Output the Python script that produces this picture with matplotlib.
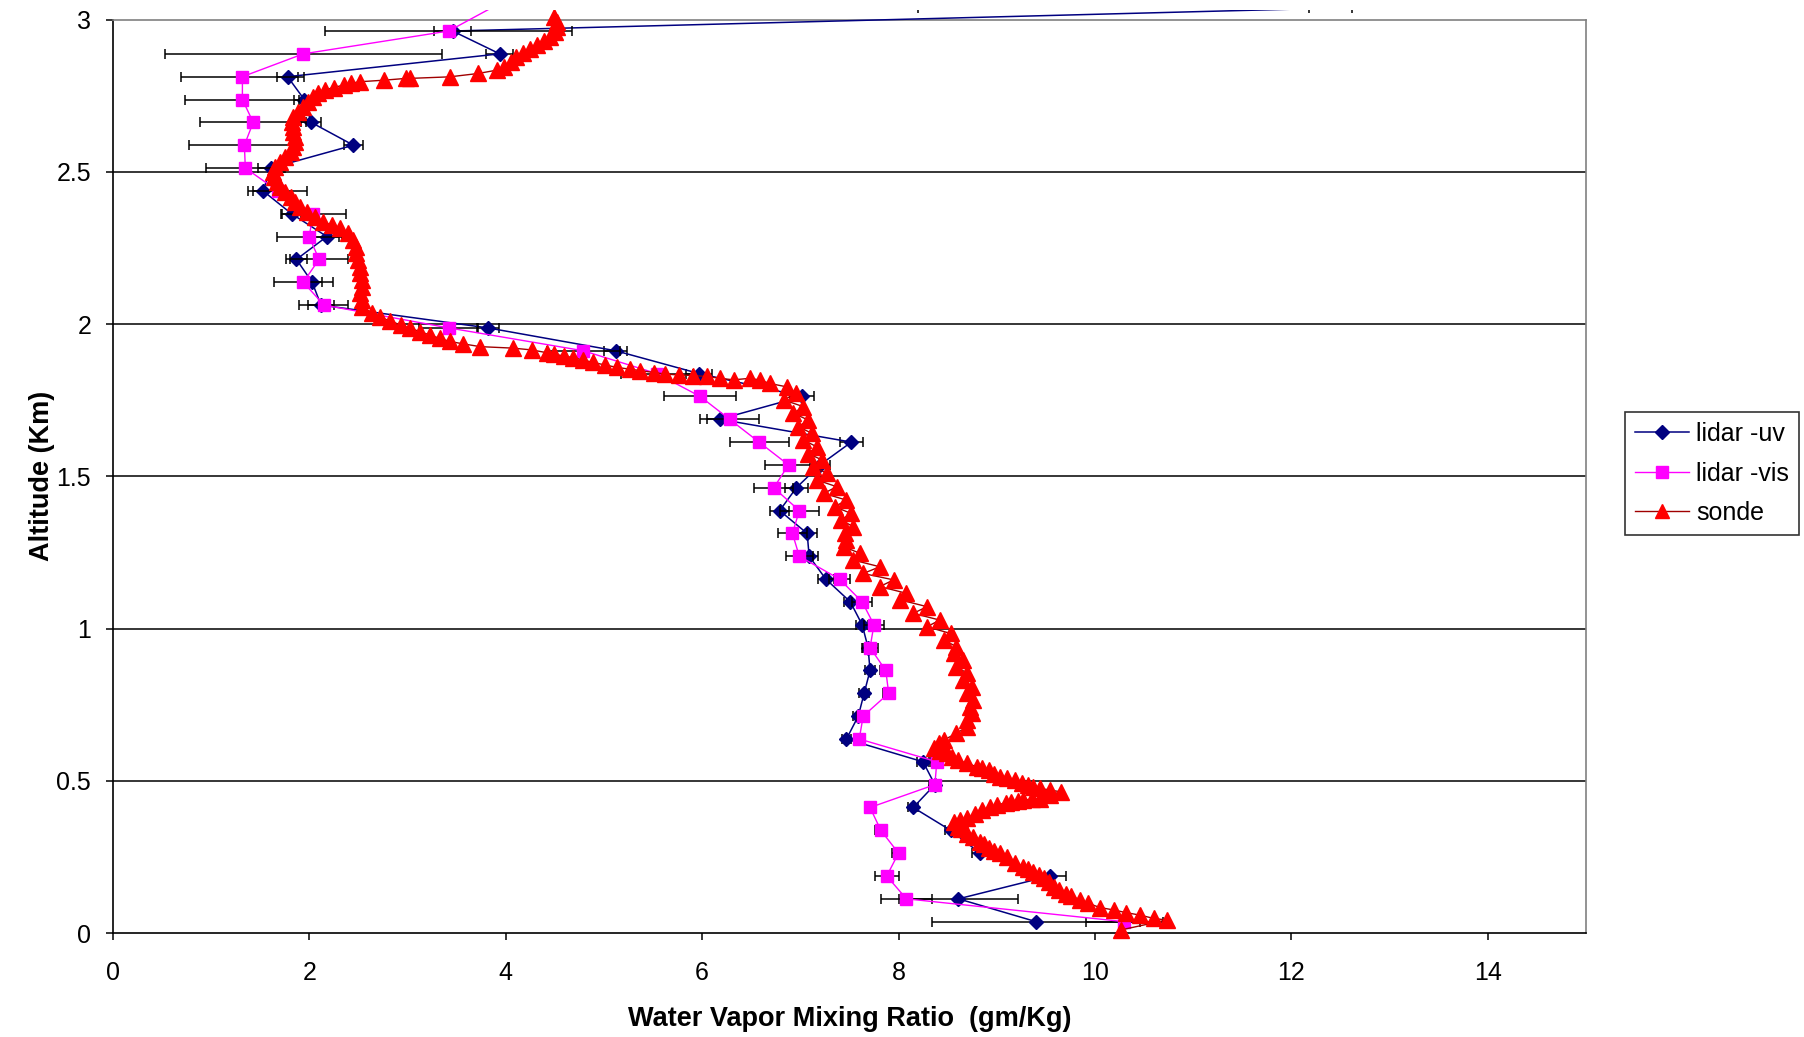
import matplotlib.pyplot as plt
from matplotlib.lines import Line2D
from matplotlib.ticker import FuncFormatter, MultipleLocator
from matplotlib.transforms import Bbox, TransformedBbox

plt.rcParams["font.family"] = ["Liberation Sans", "DejaVu Sans"]

# lidar range gates (km); the last gate sits just above the plotted range
lidar_alt = [0.0375, 0.1125, 0.1875, 0.2625, 0.3375, 0.4125, 0.4875, 0.5625,
             0.6375, 0.7125, 0.7875, 0.8625, 0.9375, 1.0125, 1.0875, 1.1625,
             1.2375, 1.3125, 1.3875, 1.4625, 1.5375, 1.6125, 1.6875, 1.7625,
             1.8375, 1.9125, 1.9875, 2.0625, 2.1375, 2.2125, 2.2875, 2.3625,
             2.4375, 2.5125, 2.5875, 2.6625, 2.7375, 2.8125, 2.8875, 2.9625,
             3.0375]

uv_mr = [9.40, 8.61, 9.54, 8.83, 8.53, 8.15, 8.37, 8.25, 7.47, 7.59,
         7.65, 7.71, 7.69, 7.63, 7.51, 7.26, 7.09, 7.07, 6.79, 6.96,
         7.20, 7.52, 6.18, 7.02, 5.97, 5.12, 3.82, 2.12, 2.03, 1.87,
         2.18, 1.82, 1.53, 1.61, 2.45, 2.02, 1.95, 1.78, 3.94, 3.46,
         12.4]
uv_err = [1.06, 0.61, 0.17, 0.08, 0.06, 0.05, 0.05, 0.06, 0.05, 0.05,
          0.05, 0.05, 0.05, 0.06, 0.07, 0.08, 0.09, 0.10, 0.10, 0.12,
          0.10, 0.12, 0.13, 0.12, 0.13, 0.12, 0.11, 0.13, 0.10, 0.11,
          0.12, 0.10, 0.10, 0.13, 0.10, 0.10, 0.10, 0.11, 0.14, 0.19,
          0.22]

vis_mr = [10.30, 8.08, 7.88, 8.00, 7.82, 7.71, 8.37, 8.39, 7.60, 7.64,
          7.90, 7.87, 7.71, 7.75, 7.63, 7.40, 6.99, 6.92, 6.99, 6.73,
          6.88, 6.58, 6.28, 5.98, 5.54, 4.79, 3.42, 2.15, 1.94, 2.10,
          2.00, 2.04, 1.68, 1.35, 1.34, 1.43, 1.32, 1.32, 1.94, 3.42,
          3.85]
vis_err = [0.39, 0.26, 0.12, 0.07, 0.06, 0.05, 0.06, 0.06, 0.05, 0.06,
           0.06, 0.06, 0.08, 0.10, 0.10, 0.11, 0.14, 0.15, 0.20, 0.20,
           0.24, 0.30, 0.30, 0.37, 0.37, 0.37, 0.30, 0.25, 0.30, 0.30,
           0.33, 0.33, 0.30, 0.40, 0.56, 0.54, 0.58, 0.63, 1.41, 1.26,
           4.35]

# radiosonde profile, surface upward
sonde_mr = [
    10.26, 10.73, 10.60, 10.46, 10.32, 10.19, 10.05, 9.93, 9.85, 9.76,
    9.70, 9.63, 9.58, 9.53, 9.48, 9.43, 9.37, 9.32, 9.27, 9.19,
    9.10, 9.03, 8.97, 8.92, 8.87, 8.83, 8.76, 8.70, 8.64, 8.61,
    8.56, 8.63, 8.70, 8.78, 8.85, 8.93, 9.00, 9.09, 9.15, 9.22,
    9.27, 9.36, 9.44, 9.54, 9.65, 9.54, 9.44, 9.37, 9.32, 9.26,
    9.19, 9.10, 9.03, 8.97, 8.92, 8.85, 8.80, 8.70, 8.61, 8.54,
    8.49, 8.42, 8.36, 8.41, 8.46,
    8.59, 8.70, 8.70, 8.75, 8.73, 8.76, 8.70, 8.75, 8.66, 8.70,
    8.59, 8.66, 8.56, 8.59, 8.46, 8.53, 8.29, 8.42, 8.15, 8.29,
    8.02, 8.08, 7.81, 7.95, 7.64, 7.81, 7.54, 7.61, 7.44, 7.47,
    7.46, 7.54, 7.41, 7.52, 7.35, 7.47, 7.24, 7.37, 7.17, 7.27,
    7.13, 7.22, 7.08, 7.17, 7.03, 7.12, 6.98, 7.08, 6.93, 7.03,
    6.83, 6.96, 6.86, 6.69, 6.59, 6.49,
    6.32, 6.18, 6.05, 5.91, 5.76, 5.62, 5.51, 5.37, 5.27, 5.13,
    5.01, 4.89, 4.79, 4.69, 4.59, 4.49, 4.42, 4.27, 4.08, 3.74,
    3.57, 3.43, 3.33, 3.23, 3.13, 3.03, 2.93, 2.82, 2.72, 2.64,
    2.54, 2.54, 2.52, 2.54, 2.54, 2.52, 2.52, 2.50, 2.48, 2.48,
    2.45, 2.40, 2.31, 2.23, 2.14, 2.06, 1.98, 1.91, 1.86, 1.81,
    1.75, 1.70, 1.67, 1.64, 1.63, 1.65, 1.70, 1.75, 1.81, 1.84,
    1.86, 1.86, 1.84, 1.84, 1.82, 1.84, 1.89, 1.94, 1.99, 2.04,
    2.09, 2.16, 2.25, 2.35, 2.43, 2.52, 2.76, 2.99, 3.03, 3.43,
    3.72, 3.91, 3.98, 4.05, 4.11, 4.18, 4.25, 4.32, 4.39, 4.45,
    4.50, 4.52, 4.52, 4.49]
sonde_alt = [
    0.010, 0.043, 0.048, 0.059, 0.067, 0.076, 0.084, 0.098, 0.108, 0.122,
    0.130, 0.143, 0.152, 0.169, 0.180, 0.191, 0.202, 0.209, 0.218, 0.231,
    0.249, 0.262, 0.271, 0.278, 0.292, 0.300, 0.314, 0.327, 0.341, 0.349,
    0.366, 0.373, 0.377, 0.391, 0.404, 0.413, 0.420, 0.428, 0.431, 0.435,
    0.437, 0.439, 0.442, 0.453, 0.464, 0.470, 0.475, 0.481, 0.486, 0.494,
    0.503, 0.508, 0.513, 0.524, 0.535, 0.541, 0.546, 0.557, 0.568, 0.579,
    0.590, 0.599, 0.607, 0.623, 0.634,
    0.656, 0.678, 0.700, 0.722, 0.744, 0.765, 0.787, 0.809, 0.831, 0.853,
    0.875, 0.897, 0.919, 0.941, 0.962, 0.984, 1.006, 1.028, 1.050, 1.072,
    1.094, 1.116, 1.138, 1.160, 1.181, 1.203, 1.225, 1.247, 1.269, 1.291,
    1.313, 1.335, 1.357, 1.378, 1.400, 1.422, 1.444, 1.466, 1.488, 1.510,
    1.532, 1.554, 1.575, 1.597, 1.619, 1.641, 1.663, 1.685, 1.707, 1.729,
    1.751, 1.773, 1.794, 1.805, 1.816, 1.822,
    1.817, 1.822, 1.828, 1.831, 1.833, 1.836, 1.841, 1.847, 1.852, 1.858,
    1.866, 1.874, 1.882, 1.890, 1.895, 1.902, 1.906, 1.915, 1.921, 1.926,
    1.935, 1.943, 1.953, 1.964, 1.975, 1.986, 1.997, 2.011, 2.022, 2.036,
    2.057, 2.079, 2.101, 2.123, 2.145, 2.167, 2.189, 2.210, 2.232, 2.254,
    2.276, 2.298, 2.314, 2.325, 2.336, 2.353, 2.369, 2.386, 2.402, 2.418,
    2.435, 2.451, 2.468, 2.484, 2.500, 2.517, 2.533, 2.550, 2.566, 2.583,
    2.599, 2.615, 2.632, 2.648, 2.665, 2.681, 2.698, 2.714, 2.730, 2.747,
    2.760, 2.769, 2.777, 2.785, 2.791, 2.796, 2.801, 2.807, 2.807, 2.812,
    2.823, 2.834, 2.845, 2.862, 2.878, 2.889, 2.902, 2.917, 2.931, 2.944,
    2.960, 2.977, 2.993, 3.010]

UV_COLOR = "#000080"
VIS_COLOR = "#FF00FF"
SONDE_COLOR = "#FF0000"
SONDE_LINE = "#A00000"

fig = plt.figure(figsize=(18.04, 10.37), dpi=100)
ax = fig.add_axes([0.0625, 0.1002, 0.8167, 0.8809])

n_in = len(lidar_alt) - 1  # markers only for gates inside the axis range
err_kw = dict(ecolor="black", elinewidth=1.1, capsize=3.6, capthick=1.1)
uv = ax.errorbar(uv_mr, lidar_alt, xerr=uv_err, color=UV_COLOR, lw=1.1,
                 marker="D", ms=7.5, mfc=UV_COLOR, mec=UV_COLOR,
                 markevery=slice(0, n_in), zorder=3, **err_kw)
vis = ax.errorbar(vis_mr, lidar_alt, xerr=vis_err, color=VIS_COLOR, lw=1.0,
                  marker="s", ms=8, mfc=VIS_COLOR, mec=VIS_COLOR,
                  markevery=slice(0, n_in), zorder=4, **err_kw)
sonde, = ax.plot(sonde_mr, sonde_alt, color=SONDE_LINE, lw=1.0, marker="^", ms=12,
                 mfc=SONDE_COLOR, mec=SONDE_COLOR, zorder=5)

# let the traces spill a few pixels over the top edge of the plot area
clip = TransformedBbox(Bbox([[-0.02, -0.02], [1.02, 1.0103]]), ax.transAxes)
for art in [sonde, uv.lines[0], *uv.lines[1], *uv.lines[2],
            vis.lines[0], *vis.lines[1], *vis.lines[2]]:
    art.set_clip_box(clip)

ax.set_xlim(0, 15)
ax.set_ylim(0, 3)
ax.set_xticks([0, 2, 4, 6, 8, 10, 12, 14])
ax.yaxis.set_major_locator(MultipleLocator(0.5))
ax.yaxis.set_major_formatter(FuncFormatter(lambda v, _: f"{v:g}"))

ax.yaxis.grid(True, color="black", lw=1.1)
ax.set_axisbelow(True)
fig.canvas.draw()
for gl, t in zip(ax.yaxis.get_gridlines(), ax.get_yticks()):
    if t <= 0 or t >= 3:
        gl.set_visible(False)

for side in ("top", "right"):
    ax.spines[side].set_color("#808080")
    ax.spines[side].set_linewidth(1.2)
for side in ("left", "bottom"):
    ax.spines[side].set_color("black")
    ax.spines[side].set_linewidth(1.2)

ax.tick_params(axis="both", direction="out", length=5, width=1.1, labelsize=18)
ax.tick_params(axis="x", pad=15)
ax.tick_params(axis="y", pad=10.5)

ax.set_xlabel("Water Vapor Mixing Ratio  (gm/Kg)", fontsize=19.5, fontweight="bold",
              labelpad=15)
ax.set_ylabel("Altitude (Km)", fontsize=19.5, fontweight="bold", labelpad=1)

handles = [
    Line2D([], [], color=UV_COLOR, lw=1.1, marker="D", ms=7.5, mfc=UV_COLOR, mec=UV_COLOR),
    Line2D([], [], color=VIS_COLOR, lw=1.0, marker="s", ms=8, mfc=VIS_COLOR, mec=VIS_COLOR),
    Line2D([], [], color=SONDE_LINE, lw=1.0, marker="^", ms=10, mfc=SONDE_COLOR, mec=SONDE_COLOR),
]
leg = fig.legend(handles, ["lidar -uv", "lidar -vis", "sonde"], loc="upper left",
                 bbox_to_anchor=(0.9008, 0.6027), fontsize=18, frameon=True,
                 fancybox=False, edgecolor="black", handlelength=2.15,
                 handletextpad=0.3, borderpad=0.4, labelspacing=0.62,
                 borderaxespad=0)
leg.get_frame().set_linewidth(1.2)

fig.savefig("out.png", dpi=100)
